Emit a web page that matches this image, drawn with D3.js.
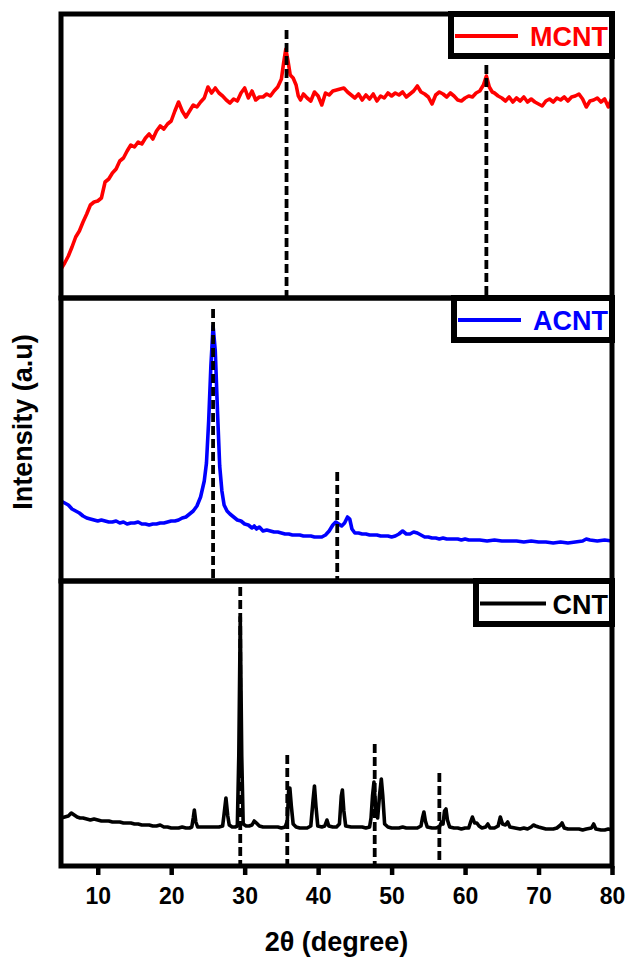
<!DOCTYPE html>
<html>
<head>
<meta charset="utf-8">
<script src="https://cdn.jsdelivr.net/npm/d3@7"></script>
<style>
  html, body { margin: 0; padding: 0; background: #fff; }
  svg { display: block; }
  text { font-family: "Liberation Sans", Arial, Helvetica, sans-serif; font-weight: bold; }
</style>
</head>
<body>
<svg id="chart" width="628" height="957"></svg>
<script>
// ---------------- DATA ----------------
const xTicks = [10, 20, 30, 40, 50, 60, 70, 80];
const seriesNames = ["MCNT", "ACNT", "CNT"];
const xTitle = "2\u03b8 (degree)";
const yTitle = "Intensity (a.u)";

// [2theta, intensity (a.u.)]
const mcnt = [
 [5.0,29],[5.5,35],[6.0,42],[6.5,51],[7.0,61],[7.5,67],[8.0,76],[8.5,84],[9.0,93],[9.5,96],
 [10.0,97],[10.5,100],[11.0,116],[11.5,119],[12.0,125],[12.5,129],[13.0,137],[13.5,140],[14.0,147],[14.5,153],
 [15.0,151],[15.5,156],[16.0,154],[16.5,160],[17.0,164],[17.5,159],[18.0,167],[18.5,172],[19.0,169],[19.5,174],
 [20.0,177],[20.5,187],[21.0,196],[21.5,187],[22.0,181],[22.5,187],[23.0,193],[23.5,191],[24.0,196],[24.5,200],
 [25.0,211],[25.5,205],[26.0,210],[26.5,205],[27.0,202],[27.5,198],[28.0,195],[28.5,199],[29.0,197],[29.5,205],
 [30.0,210],[30.5,200],[31.0,207],[31.5,198],[32.0,201],[32.5,201],[33.0,204],[33.5,202],[34.0,207],[34.5,211],
 [35.0,219],[35.3,235],[35.6,249],[35.9,237],[36.2,223],[36.6,220],[37.0,213],[37.3,202],[37.6,198],[38.0,204],
 [38.5,200],[39.0,197],[39.5,206],[40.0,202],[40.5,193],[41.0,205],[41.5,203],[42.0,207],[42.5,208],[43.0,209],
 [43.5,210],[44.0,206],[44.5,203],[45.0,200],[45.5,204],[46.0,198],[46.5,203],[47.0,199],[47.5,204],[48.0,197],
 [48.5,202],[49.0,200],[49.5,205],[50.0,202],[50.5,205],[51.0,203],[51.5,206],[52.0,201],[52.5,204],[53.0,207],
 [53.5,212],[54.0,206],[54.5,204],[55.0,201],[55.5,194],[56.0,203],[56.5,206],[57.0,204],[57.5,201],[58.0,205],
 [58.5,202],[59.0,198],[59.5,197],[60.0,200],[60.5,202],[61.0,201],[61.5,205],[62.0,207],[62.5,213],[62.9,222],
 [63.3,211],[63.7,206],[64.0,205],[64.5,202],[65.0,200],[65.5,197],[66.0,201],[66.5,196],[67.0,200],[67.5,197],
 [68.0,201],[68.5,196],[69.0,199],[69.5,196],[70.0,194],[70.5,192],[71.0,197],[71.5,199],[72.0,196],[72.5,200],
 [73.0,198],[73.5,201],[74.0,197],[74.5,201],[75.0,202],[75.5,204],[76.0,199],[76.5,191],[77.0,197],[77.5,198],
 [78.0,200],[78.5,196],[79.0,199],[79.5,191],[80.0,200]
];

const acnt = [
 [5.0,80],[5.5,78],[6.0,76],[6.5,72],[7.0,70],[7.5,68],[8.0,65],[8.5,63],[9.0,62],[9.5,61],
 [10.0,60],[10.5,61],[11.0,60],[11.5,59],[12.0,59],[12.5,60],[13.0,58],[13.5,59],[14.0,57],[14.5,58],
 [15.0,58],[15.5,59],[16.0,57],[16.5,57],[17.0,56],[17.5,57],[18.0,57],[18.5,58],[19.0,58],[19.5,59],
 [20.0,60],[20.5,60],[21.0,61],[21.5,63],[22.0,64],[22.5,67],[23.0,70],[23.5,75],[24.0,84],[24.5,100],
 [24.8,118],[25.1,160],[25.4,215],[25.7,255],[26.0,230],[26.3,170],[26.6,115],[26.9,90],[27.2,76],[27.6,70],
 [28.0,67],[28.5,64],[29.0,61],[29.5,60],[30.0,57],[30.5,56],[31.0,53],[31.3,55],[31.6,52],[32.0,54],
 [32.5,50],[33.0,51],[33.5,50],[34.0,49],[34.5,49],[35.0,48],[35.5,47],[36.0,47],[36.5,46],[37.0,46],
 [37.5,46],[38.0,45],[38.5,45],[39.0,45],[39.5,44],[40.0,44],[40.5,44],[41.0,46],[41.5,50],[42.0,56],
 [42.4,59],[42.8,57],[43.2,55],[43.6,58],[44.0,64],[44.3,62],[44.6,52],[45.0,48],[45.5,48],[46.0,47],
 [46.5,47],[47.0,46],[47.5,46],[48.0,46],[48.5,45],[49.0,45],[49.5,45],[50.0,44],[50.5,45],[51.0,47],
 [51.5,50],[52.0,47],[52.5,47],[53.0,49],[53.5,48],[54.0,46],[54.5,44],[55.0,44],[55.5,43],[56.0,43],
 [56.5,42],[57.0,43],[57.5,42],[58.0,42],[58.5,42],[59.0,42],[59.5,41],[60.0,42],[60.5,41],[61.0,41],
 [62.0,41],[63.0,40],[64.0,41],[65.0,40],[66.0,40],[67.0,40],[68.0,39],[69.0,40],[70.0,39],[71.0,39],
 [72.0,38],[73.0,39],[74.0,38],[75.0,39],[76.0,40],[76.5,42],[77.0,41],[78.0,40],[79.0,41],[80.0,40]
];

const cnt = [
 [5.0,48],[5.5,49],[6.0,50],[6.4,53],[6.8,51],[7.2,49],[7.6,48],[8.0,48],[8.5,47],[9.0,46],
 [9.5,47],[10.0,46],[10.5,45],[11.0,45],[11.5,45],[12.0,44],[12.5,44],[13.0,44],[13.5,43],[14.0,43],
 [14.5,43],[15.0,42],[15.5,42],[16.0,41],[16.5,41],[17.0,41],[17.5,40],[18.0,40],[18.5,41],[19.0,39],
 [19.5,39],[20.0,38],[20.5,38],[21.0,38],[21.5,39],[22.0,38],[22.5,38],[22.8,39],[23.0,48],[23.15,56],
 [23.35,44],[23.6,39],[24.0,39],[24.5,39],[25.0,39],[25.5,39],[26.0,39],[26.5,39],[27.0,40],[27.2,52],
 [27.45,68],[27.7,50],[27.9,41],[28.3,39],[28.7,39],[29.0,40],[29.2,110],[29.4,249],[29.6,110],[29.8,42],
 [30.2,40],[30.6,40],[31.0,41],[31.3,45],[31.6,43],[32.0,40],[32.5,39],[33.0,39],[33.5,39],[34.0,39],
 [34.5,39],[35.0,38],[35.5,39],[35.8,45],[36.0,78],[36.15,78],[36.35,60],[36.6,42],[37.0,39],[37.5,38],
 [38.0,38],[38.5,38],[39.0,40],[39.3,65],[39.5,80],[39.7,60],[39.95,40],[40.5,39],[40.9,40],[41.2,46],
 [41.45,40],[42.0,39],[42.5,39],[42.9,42],[43.15,70],[43.3,76],[43.5,55],[43.75,40],[44.5,39],[45.0,39],
 [45.5,39],[46.0,39],[46.5,38],[47.0,39],[47.2,48],[47.4,70],[47.6,84],[47.85,55],[48.1,48],[48.35,70],
 [48.6,87],[48.8,70],[49.05,42],[49.5,39],[50.0,38],[50.5,38],[51.0,38],[51.5,39],[52.0,38],[52.5,38],
 [53.0,38],[53.5,38],[54.0,40],[54.2,48],[54.4,54],[54.6,45],[54.85,39],[55.5,38],[56.0,38],[56.5,39],
 [56.8,44],[57.0,42],[57.2,55],[57.4,57],[57.6,46],[57.9,39],[58.5,38],[59.0,38],[59.5,37],[60.0,38],
 [60.5,38],[60.8,45],[61.0,49],[61.3,43],[61.6,43],[61.9,40],[62.3,38],[62.8,39],[63.1,42],[63.4,38],
 [64.0,38],[64.5,40],[64.8,49],[65.1,42],[65.5,41],[65.8,44],[66.1,39],[66.8,38],[67.5,37],[68.0,38],
 [68.5,37],[69.0,39],[69.3,41],[69.6,40],[70.0,39],[70.5,38],[71.0,37],[71.5,37],[72.0,37],[72.5,38],
 [73.0,41],[73.2,43],[73.5,38],[74.0,37],[74.5,37],[75.0,37],[75.5,37],[76.0,36],[76.5,37],[77.2,38],
 [77.5,42],[77.8,37],[78.5,36],[79.0,36],[79.5,37],[80.0,36]
];

// reference peak positions (2theta) and the intensity where each dashed marker starts
const mcntPeaks = [35.7, 62.9];
const mcntPeakTop = [268, 233];
const acntPeaks = [25.7, 42.6];
const acntPeakTop = [272, 109];
const cntPeaks = [29.4, 35.8, 47.7, 56.5];
const cntPeakTop = [279, 111, 122, 93];

// ---------------- LAYOUT ----------------
const W = 628, H = 957;
const left = 61, right = 612;
const panelTops = [14, 298, 581];
const panelBottoms = [298, 581, 866];
const yMax = [284, 283, 285];
const colors = ["#ff0000", "#0000ff", "#000000"];
const legendBoxes = [
  {x0: 451, y0: 14, x1: 612, y1: 56},
  {x0: 454, y0: 298, x1: 612, y1: 340},
  {x0: 476, y0: 581, x1: 612, y1: 624}
];

const svg = d3.select("#chart");
svg.append("rect").attr("width", W).attr("height", H).attr("fill", "#fff");

const x = d3.scaleLinear().domain([5, 80]).range([left, right]);

const panels = [
  {data: mcnt, peaks: mcntPeaks, tops: mcntPeakTop},
  {data: acnt, peaks: acntPeaks, tops: acntPeakTop},
  {data: cnt, peaks: cntPeaks, tops: cntPeakTop}
];

const defs = svg.append("defs");
defs.append("clipPath").attr("id", "plotclip")
  .append("rect").attr("x", left).attr("y", panelTops[0])
  .attr("width", right - left).attr("height", panelBottoms[2] - panelTops[0]);

panels.forEach((p, i) => {
  const y = d3.scaleLinear().domain([0, yMax[i]]).range([panelBottoms[i], panelTops[i]]);
  const g = svg.append("g").attr("clip-path", "url(#plotclip)");
  const line = d3.line().x(d => x(d[0])).y(d => y(d[1]));
  g.append("path").datum(p.data)
    .attr("d", line)
    .attr("fill", "none")
    .attr("stroke", colors[i])
    .attr("stroke-width", 3.6)
    .attr("stroke-linejoin", "round");

  // dashed reference lines
  svg.append("g").selectAll("line").data(p.peaks).join("line")
    .attr("x1", d => x(d)).attr("x2", d => x(d))
    .attr("y1", (d, k) => y(p.tops[k]))
    .attr("y2", panelBottoms[i])
    .attr("stroke", "#000")
    .attr("stroke-width", 3.8)
    .attr("stroke-dasharray", "9,4");

  // legend
  const lb = legendBoxes[i];
  svg.append("rect")
    .attr("x", lb.x0).attr("y", lb.y0)
    .attr("width", lb.x1 - lb.x0).attr("height", lb.y1 - lb.y0)
    .attr("fill", "#fff").attr("stroke", "#000").attr("stroke-width", 6);
  const ly = (lb.y0 + lb.y1) / 2 + 1;
  svg.append("line")
    .attr("x1", lb.x0 + 4).attr("x2", i === 2 ? lb.x0 + 70 : lb.x0 + 67)
    .attr("y1", ly).attr("y2", ly)
    .attr("stroke", colors[i]).attr("stroke-width", 4);
  svg.append("text")
    .attr("x", 608).attr("y", ly + 10)
    .attr("text-anchor", "end")
    .attr("font-size", 27)
    .attr("fill", colors[i])
    .text(seriesNames[i]);

  // panel frame
  svg.append("rect")
    .attr("x", left).attr("y", panelTops[i])
    .attr("width", right - left).attr("height", panelBottoms[i] - panelTops[i])
    .attr("fill", "none").attr("stroke", "#000").attr("stroke-width", 5);
});

// x axis
const xAxis = d3.axisBottom(x).tickValues(xTicks).tickSize(9).tickPadding(13).tickFormat(d3.format("d"));
const ax = svg.append("g").attr("transform", `translate(0,${panelBottoms[2]})`).call(xAxis);
ax.select(".domain").remove();
ax.selectAll(".tick line").attr("stroke", "#000").attr("stroke-width", 4.5);
ax.selectAll(".tick text")
  .attr("font-size", 23)
  .attr("font-family", "'Liberation Sans', Arial, sans-serif")
  .attr("font-weight", "bold")
  .attr("fill", "#000");

// axis titles
svg.append("text")
  .attr("x", (left + right) / 2).attr("y", 951)
  .attr("text-anchor", "middle")
  .attr("font-size", 27)
  .attr("fill", "#000")
  .text(xTitle);

svg.append("text")
  .attr("transform", `translate(32,${(panelTops[0] + panelBottoms[2]) / 2 - 18}) rotate(-90)`)
  .attr("text-anchor", "middle")
  .attr("font-size", 27)
  .attr("fill", "#000")
  .text(yTitle);
</script>
</body>
</html>
